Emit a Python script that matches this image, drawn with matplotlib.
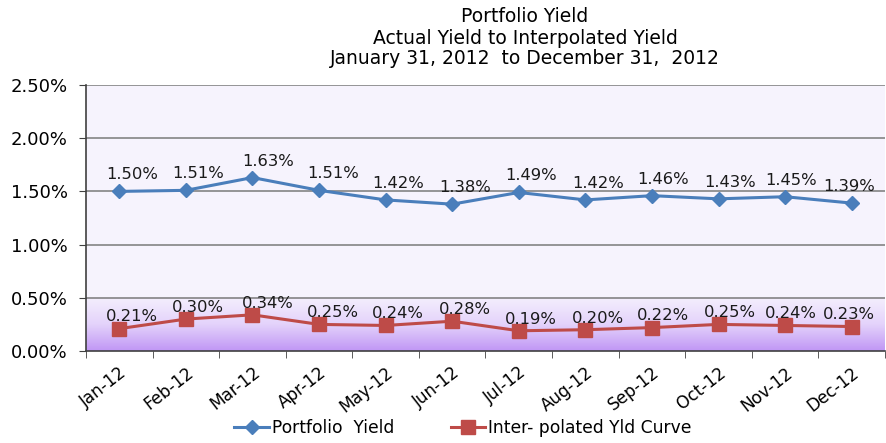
import matplotlib
matplotlib.use("Agg")
import matplotlib.pyplot as plt
import numpy as np
from matplotlib.colors import LinearSegmentedColormap

plt.rcParams['font.family'] = ['DejaVu Sans']

months = ["Jan-12", "Feb-12", "Mar-12", "Apr-12", "May-12", "Jun-12",
          "Jul-12", "Aug-12", "Sep-12", "Oct-12", "Nov-12", "Dec-12"]
portfolio = [1.50, 1.51, 1.63, 1.51, 1.42, 1.38, 1.49, 1.42, 1.46, 1.43, 1.45, 1.39]
interp = [0.21, 0.30, 0.34, 0.25, 0.24, 0.28, 0.19, 0.20, 0.22, 0.25, 0.24, 0.23]
yticks = [0.0, 0.5, 1.0, 1.5, 2.0, 2.5]

fig = plt.figure(figsize=(8.87, 4.43), dpi=100)
ax = fig.add_axes([86/887, 92/443, 799/887, 266/443])
ax.set_facecolor('#F6F3FD')

x = np.arange(len(months))
ax.set_xlim(-0.5, len(months) - 0.5)
ax.set_ylim(0, 2.5)

# gradient in the lower band
cmap = LinearSegmentedColormap.from_list('g', ['#C096F5', '#E4D3FB', '#F4EFFD'])
grad = np.linspace(0, 1, 256).reshape(-1, 1)
ax.imshow(grad, aspect='auto', cmap=cmap, origin='lower',
          extent=[-0.5, len(months) - 0.5, 0, 0.5], zorder=0)

for yv in yticks[1:]:
    ax.axhline(yv, color='#7A7A7A', lw=1.1, zorder=1)

blue = '#4A7EBB'
red = '#BE4B48'
ax.plot(x, portfolio, color=blue, lw=2.2, marker='D', markersize=7.5,
        markerfacecolor=blue, markeredgecolor=blue, zorder=3, label='Portfolio  Yield')
ax.plot(x, interp, color=red, lw=2.2, marker='s', markersize=10,
        markerfacecolor=red, markeredgecolor=red, zorder=3, label='Inter- polated Yld Curve')

dx = [9, 9, 11, 10, 9, 9, 9, 9, 8, 8, 4, -2]
for xi, v, d in zip(x, portfolio, dx):
    ax.annotate(f"{v:.2f}%", (xi, v), xytext=(d, 6.5), textcoords='offset points',
                ha='center', va='bottom', fontsize=11.8, color='#1a1a1a', zorder=4)
for xi, v, d in zip(x, interp, dx):
    ax.annotate(f"{v:.2f}%", (xi, v), xytext=(d, 3), textcoords='offset points',
                ha='center', va='bottom', fontsize=11.8, color='#1a1a1a', zorder=4)

ax.set_yticks(yticks)
ax.set_yticklabels([f"{v:.2f}%" for v in yticks], fontsize=13)
ax.set_xticks(x)
ax.set_xticklabels(months, rotation=38, ha='right', rotation_mode='anchor', fontsize=12.2)
ax.tick_params(axis='x', which='major', length=0, pad=9)
ax.set_xticks(np.arange(-0.5, len(months) - 0.4, 1), minor=True)
ax.tick_params(axis='x', which='minor', length=5, direction='out', color='#404040')
ax.tick_params(axis='y', length=5, direction='out', color='#404040', pad=8)

for s in ['top', 'right']:
    ax.spines[s].set_visible(False)
ax.spines['left'].set_color('#404040')
ax.spines['bottom'].set_color('#404040')
ax.spines['left'].set_linewidth(1.2)
ax.spines['bottom'].set_linewidth(1.2)

tx = 525/887
fig.text(tx, 1 - 16/443, "Portfolio Yield", ha='center', va='center', fontsize=13.5)
fig.text(tx, 1 - 38/443, "Actual Yield to Interpolated Yield", ha='center', va='center', fontsize=13.5)
fig.text(tx, 1 - 59/443, "January 31, 2012  to December 31,  2012", ha='center', va='center', fontsize=13.5)

fig.legend(loc='center', bbox_to_anchor=(463/887, 1 - 428/443), ncol=2, frameon=False,
           fontsize=12.3, handlelength=2.0, columnspacing=3.3, handletextpad=0.2)

fig.savefig('out.png', dpi=100)
